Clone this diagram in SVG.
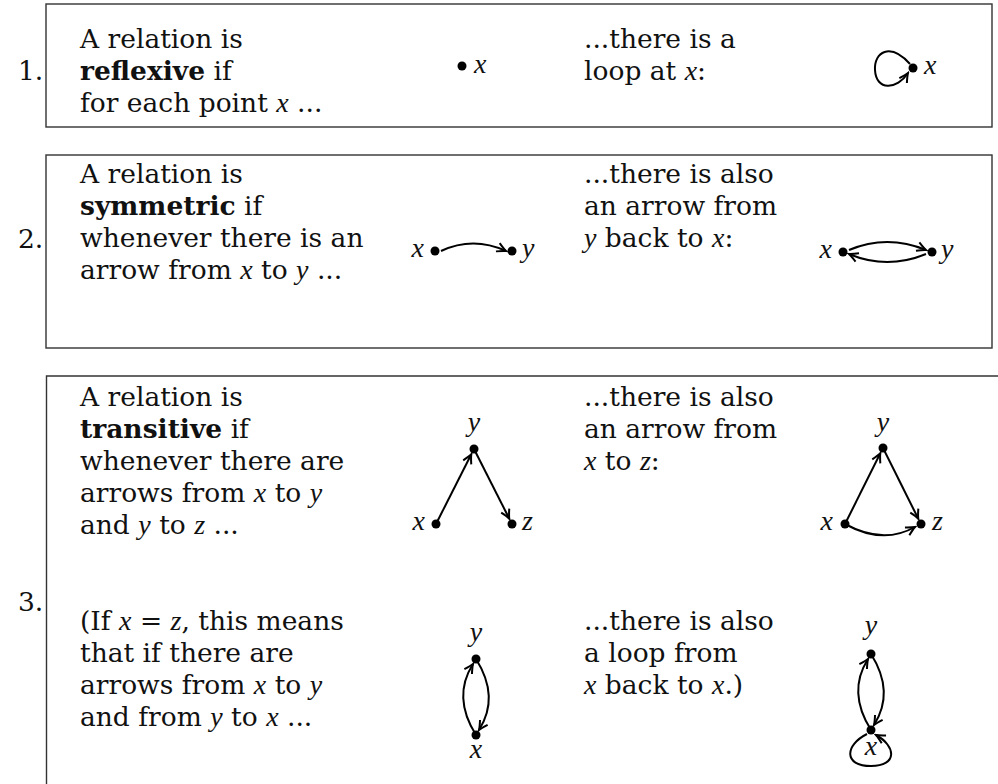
<svg xmlns="http://www.w3.org/2000/svg" width="998" height="784" viewBox="0 0 998 784">
<style>
text{font-family:"DejaVu Serif","Liberation Serif",serif;font-size:26.5px;fill:#111}
.m{font-style:italic;font-family:"Liberation Serif","DejaVu Serif",serif;font-size:28px}
.b{font-weight:bold}
.box{fill:none;stroke:#333;stroke-width:1.4}
.e{fill:none;stroke:#000;stroke-width:2}
.d{fill:#000}
.c{text-anchor:middle}
.r{text-anchor:end}
</style>
<defs>
<marker id="arr" viewBox="-10 -6 12 12" refX="0" refY="0" markerWidth="12" markerHeight="12" orient="auto" markerUnits="userSpaceOnUse">
<path d="M-9,-4.5 Q-3,-1 0,0 Q-3,1 -9,4.5" fill="none" stroke="#000" stroke-width="2"/>
</marker>
</defs>

<g id="frames">
<rect class="box" x="46" y="4" width="946" height="123"/>
<rect class="box" x="46" y="155" width="946" height="193"/>
<path class="box" d="M998,376 H46.5 V784"/>
</g>

<g id="numbers">
<text x="18" y="80">1.</text>
<text x="18" y="248">2.</text>
<text x="18" y="611">3.</text>
</g>

<g id="text1">
<text x="80" y="48">A relation is</text>
<text x="80" y="80"><tspan class="b">reflexive</tspan> if</text>
<text x="80" y="112">for each point <tspan class="m">x</tspan> ...</text>
<text x="584" y="48">...there is a</text>
<text x="584" y="80">loop at <tspan class="m">x</tspan>:</text>
</g>

<g id="text2">
<text x="80" y="183">A relation is</text>
<text x="80" y="215"><tspan class="b">symmetric</tspan> if</text>
<text x="80" y="247">whenever there is an</text>
<text x="80" y="279">arrow from <tspan class="m">x</tspan> to <tspan class="m">y</tspan> ...</text>
<text x="584" y="183">...there is also</text>
<text x="584" y="215">an arrow from</text>
<text x="584" y="247"><tspan class="m">y</tspan> back to <tspan class="m">x</tspan>:</text>
</g>

<g id="text3">
<text x="80" y="406">A relation is</text>
<text x="80" y="438"><tspan class="b">transitive</tspan> if</text>
<text x="80" y="470">whenever there are</text>
<text x="80" y="502">arrows from <tspan class="m">x</tspan> to <tspan class="m">y</tspan></text>
<text x="80" y="534">and <tspan class="m">y</tspan> to <tspan class="m">z</tspan> ...</text>
<text x="584" y="406">...there is also</text>
<text x="584" y="438">an arrow from</text>
<text x="584" y="470"><tspan class="m">x</tspan> to <tspan class="m">z</tspan>:</text>
<text x="80" y="630">(If <tspan class="m">x</tspan> = <tspan class="m">z</tspan>, this means</text>
<text x="80" y="662">that if there are</text>
<text x="80" y="694">arrows from <tspan class="m">x</tspan> to <tspan class="m">y</tspan></text>
<text x="80" y="726">and from <tspan class="m">y</tspan> to <tspan class="m">x</tspan> ...</text>
<text x="584" y="630">...there is also</text>
<text x="584" y="662">a loop from</text>
<text x="584" y="694"><tspan class="m">x</tspan> back to <tspan class="m">x</tspan>.)</text>
</g>

<g id="connectors">
<path class="e" marker-end="url(#arr)" d="M910,64 C890,42 874,52 875,70 C876,91 897,90 908,73"/>
<path class="e" marker-end="url(#arr)" d="M441,251 Q473,236 506,251"/>
<path class="e" marker-end="url(#arr)" d="M849,250 Q887,234 926,250"/>
<path class="e" marker-end="url(#arr)" d="M926,254 Q887,270 849,254"/>
<path class="e" marker-end="url(#arr)" d="M436,524 L471.3,454.3"/>
<path class="e" marker-end="url(#arr)" d="M474,449 L509.3,518.7"/>
<path class="e" marker-end="url(#arr)" d="M845,524 L880.3,453.3"/>
<path class="e" marker-end="url(#arr)" d="M883,448 L918.3,518.7"/>
<path class="e" marker-end="url(#arr)" d="M845,524 Q883,545 915,527"/>
<path class="e" marker-end="url(#arr)" d="M476,735 Q452,697 473,664"/>
<path class="e" marker-end="url(#arr)" d="M476,659 Q500,697 479,730"/>
<path class="e" marker-end="url(#arr)" d="M871,730 Q847,692 868,659"/>
<path class="e" marker-end="url(#arr)" d="M871,654 Q895,692 874,725"/>
<path class="e" marker-end="url(#arr)" d="M867,734 C845,745 843,766 871,766 C898,766 896,746 876,735"/>
</g>

<g id="node-1a"><circle class="d" cx="462" cy="66" r="4.5"/><text class="m" x="474" y="73">x</text></g>
<g id="node-1b"><circle class="d" cx="913" cy="68" r="4.5"/><text class="m" x="924" y="74">x</text></g>

<g id="node-2a-x"><circle class="d" cx="435" cy="251" r="4.5"/><text class="m r" x="424" y="257">x</text></g>
<g id="node-2a-y"><circle class="d" cx="512" cy="251" r="4.5"/><text class="m" x="522" y="257">y</text></g>
<g id="node-2b-x"><circle class="d" cx="843" cy="252" r="4.5"/><text class="m r" x="832" y="258">x</text></g>
<g id="node-2b-y"><circle class="d" cx="932" cy="252" r="4.5"/><text class="m" x="941" y="258">y</text></g>

<g id="node-3a-y"><circle class="d" cx="474" cy="449" r="4.5"/><text class="m c" x="474" y="431">y</text></g>
<g id="node-3a-x"><circle class="d" cx="436" cy="524" r="4.5"/><text class="m r" x="425" y="530">x</text></g>
<g id="node-3a-z"><circle class="d" cx="512" cy="524" r="4.5"/><text class="m" x="522" y="530">z</text></g>

<g id="node-3b-y"><circle class="d" cx="883" cy="448" r="4.5"/><text class="m c" x="883" y="431">y</text></g>
<g id="node-3b-x"><circle class="d" cx="845" cy="524" r="4.5"/><text class="m r" x="833" y="530">x</text></g>
<g id="node-3b-z"><circle class="d" cx="921" cy="524" r="4.5"/><text class="m" x="932" y="530">z</text></g>

<g id="node-3c-y"><circle class="d" cx="476" cy="659" r="4.5"/><text class="m c" x="476" y="641">y</text></g>
<g id="node-3c-x"><circle class="d" cx="476" cy="735" r="4.5"/><text class="m c" x="476" y="758">x</text></g>

<g id="node-3d-y"><circle class="d" cx="871" cy="654" r="4.5"/><text class="m c" x="871" y="634">y</text></g>
<g id="node-3d-x"><circle class="d" cx="871" cy="730" r="4.5"/><text class="m c" x="871" y="755">x</text></g>
</svg>
